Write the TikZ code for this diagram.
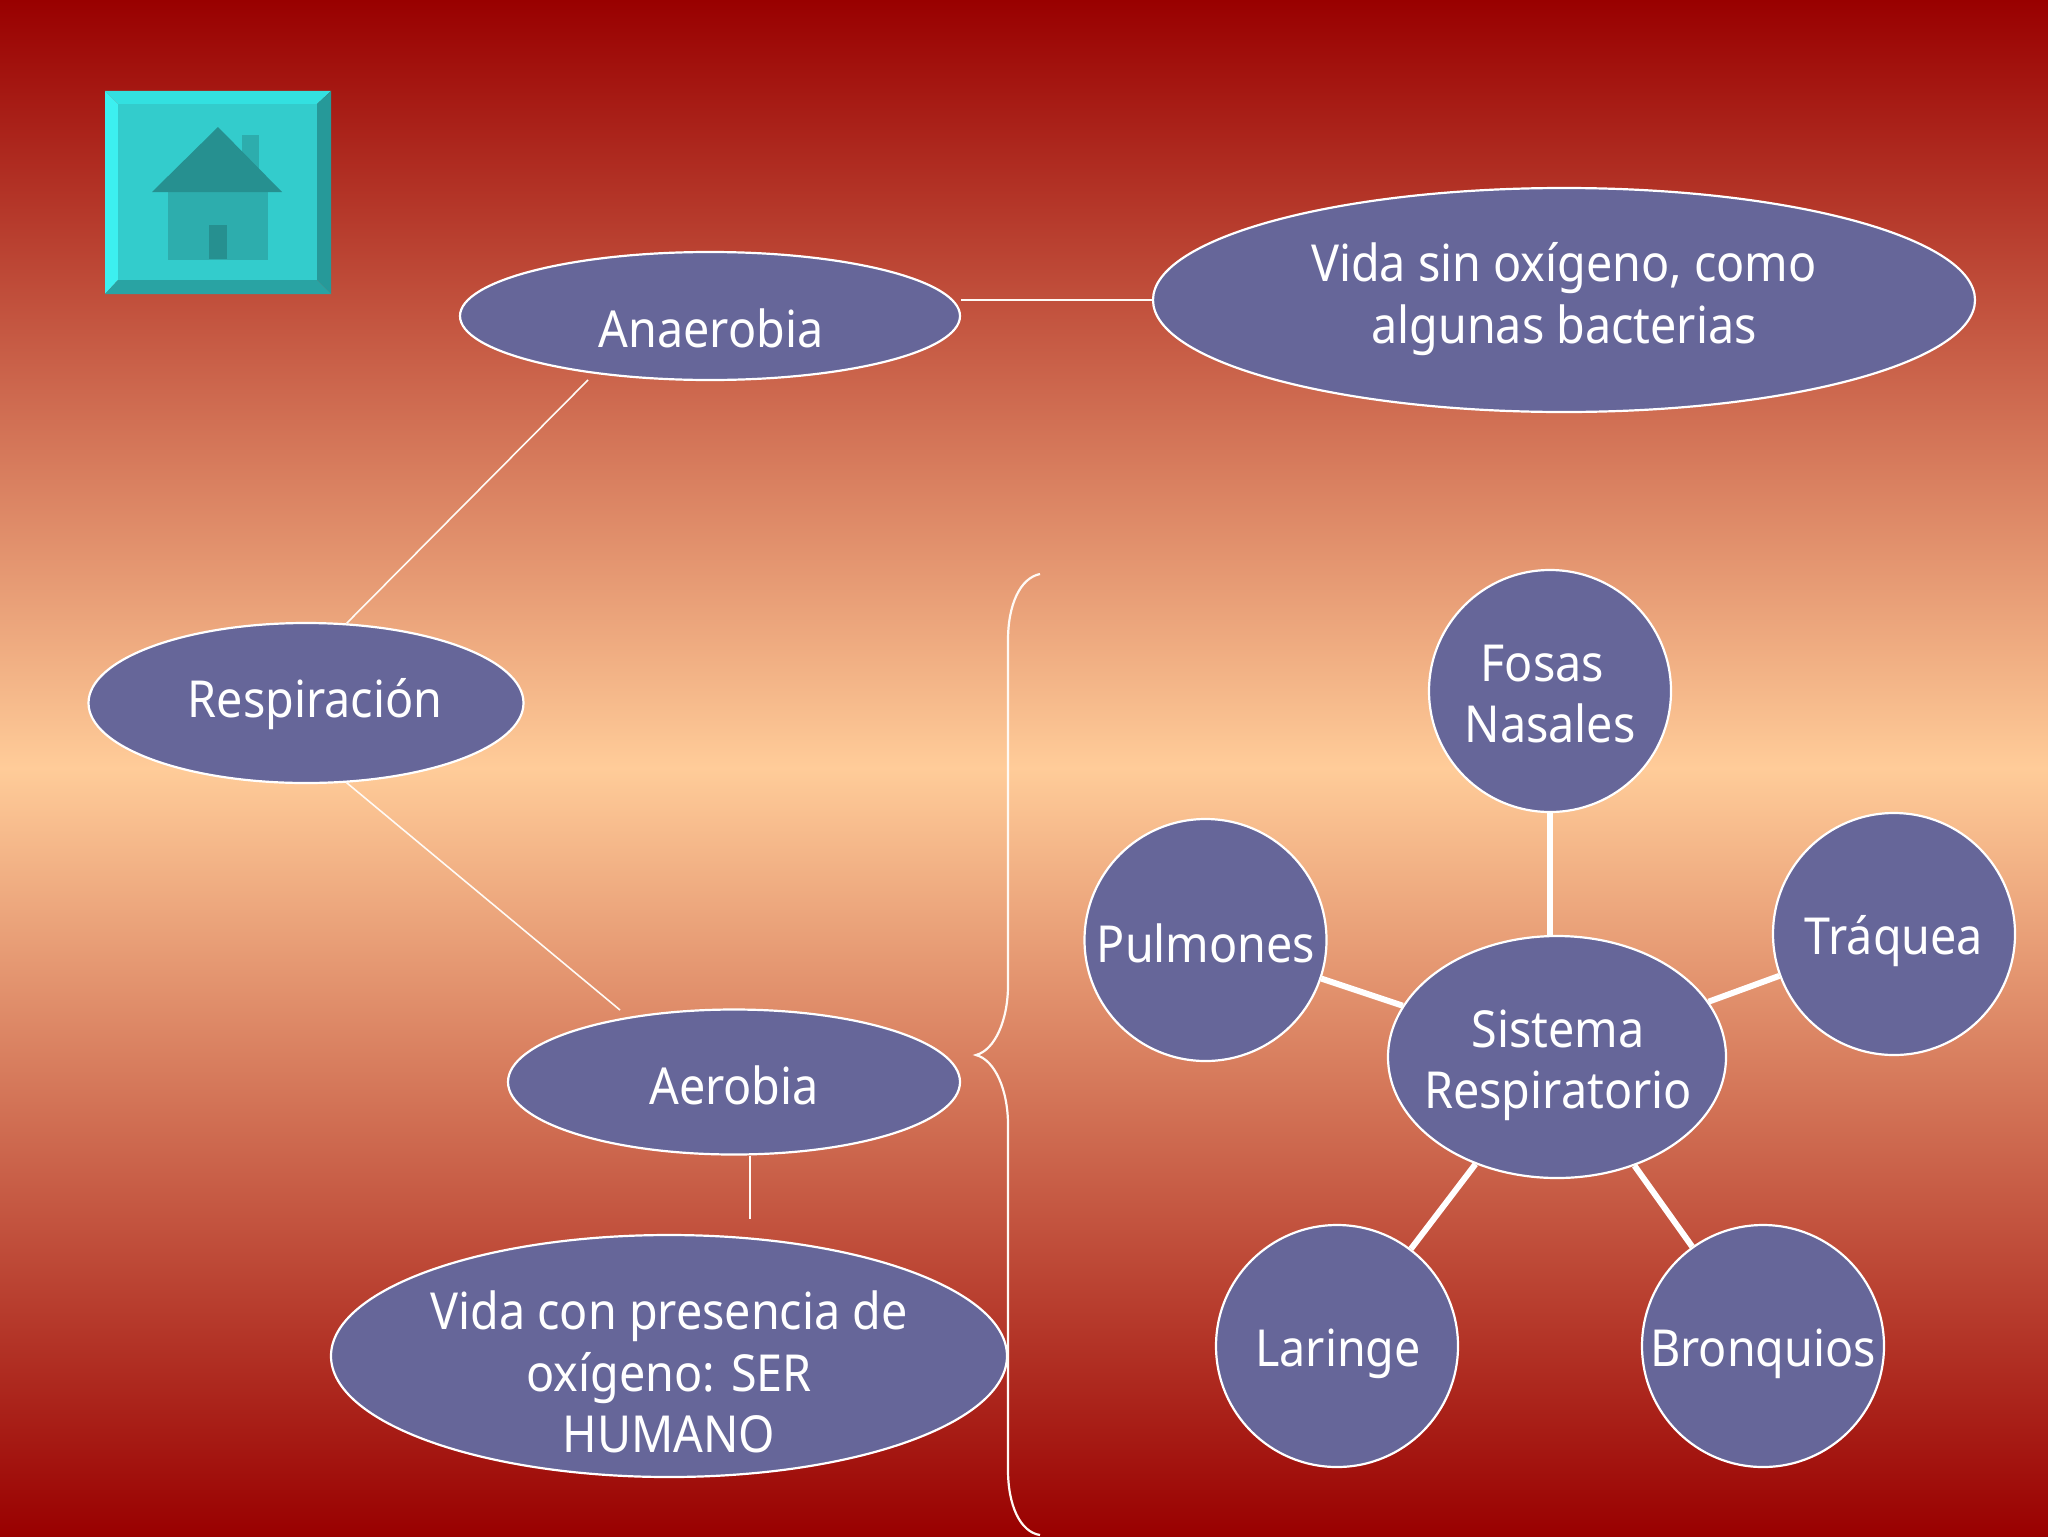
\documentclass[tikz,border=0pt]{standalone}
\usepackage{fontspec}
\usetikzlibrary{shapes.geometric,calc}
\setmainfont[FakeStretch=0.915]{Noto Sans}
\definecolor{deepred}{HTML}{990000}
\definecolor{peach}{HTML}{FFCC99}
\definecolor{nodefill}{HTML}{666699}
\definecolor{face}{HTML}{33CCCC}
\definecolor{bevtop}{HTML}{33E0E0}
\definecolor{bevleft}{HTML}{3CF0F0}
\definecolor{bevright}{HTML}{269999}
\definecolor{bevbot}{HTML}{29A3A3}
\definecolor{roof}{HTML}{269090}
\definecolor{body}{HTML}{2DADAD}
\tikzset{
  oval/.style={ellipse,draw=white,fill=nodefill,line width=1.1pt,inner sep=0pt},
  disc/.style={circle,draw=white,fill=nodefill,line width=1.1pt,inner sep=0pt,minimum size=121pt},
  txt/.style={text=white,align=center,inner sep=0pt,font=\fontsize{25.5}{30.6}\selectfont},
  thin link/.style={draw=white!90!peach,line width=0.8pt},
  thick link/.style={draw=white,line width=3pt},
}
\begin{document}
\begin{tikzpicture}[x=0.5pt,y=-0.5pt]
\useasboundingbox (0,0) rectangle (2048,1536);
\shade[top color=deepred,bottom color=deepred,middle color=peach] (0,0) rectangle (2048,1536);
% icon
\fill[bevtop] (105,91) -- (331,91) -- (317,104) -- (118,104) -- cycle;
\fill[bevleft] (105,91) -- (118,104) -- (118,280) -- (105,294) -- cycle;
\fill[bevright] (331,91) -- (331,294) -- (317,280) -- (317,104) -- cycle;
\fill[bevbot] (105,294) -- (118,280) -- (317,280) -- (331,294) -- cycle;
\fill[face] (118,104) rectangle (317,280);
\fill[body] (242,135) rectangle (259,175);
\fill[body] (168,192) rectangle (268,260);
\fill[roof] (218,127) -- (282,192) -- (152,192) -- cycle;
\fill[roof] (209,225) rectangle (227,259);
% shapes
\node[oval,minimum width=250pt,minimum height=64pt] (ana) at (710,316) {};
\node[oval,minimum width=411pt,minimum height=112pt] (vsin) at (1564,300) {};
\node[oval,minimum width=217.5pt,minimum height=80pt] (resp) at (306,703) {};
\node[oval,minimum width=226pt,minimum height=72.5pt] (aer) at (734,1082) {};
\node[oval,minimum width=338pt,minimum height=121pt] (vcon) at (669,1356) {};
\node[oval,minimum width=169pt,minimum height=121pt] (sis) at (1557,1057) {};
\node[disc] (fos) at (1550,691) {};
\node[disc] (tra) at (1894,934) {};
\node[disc] (bro) at (1763,1346) {};
\node[disc] (lar) at (1337,1346) {};
\node[disc] (pul) at (1205.5,940) {};
% connectors
\coordinate (vconend) at (750,1219);
\coordinate (anaend) at (588,380);
\coordinate (aerend) at (620,1010);
\draw[thin link] (vsin.west) -- (vsin.west -| ana.east);
\draw[thin link] (resp.63.4) -- (anaend);
\draw[thin link] (resp.297) -- (aerend);
\draw[thin link] (vconend |- aer.south) -- (vconend);
\draw[thick link] (fos) -- (fos |- sis.north);
\draw[thick link] (sis) -- (tra);
\draw[thick link] (sis) -- (pul);
\draw[thick link] (sis) -- (lar);
\draw[thick link] (sis) -- (bro);
% brace
\coordinate (bt) at (1040,574);
\coordinate (tip) at (976,1055);
\coordinate (bb) at (1040,1535);
\draw[thin link,line width=1.1pt]
  (bt) .. controls (1020,578) and (1008,605) .. (1008,640)
  -- (1008,985) .. controls (1008,1020) and (995,1050) .. (tip)
  .. controls (995,1060) and (1008,1090) .. (1008,1125)
  -- (1008,1470) .. controls (1008,1505) and (1020,1532) .. (bb);
% texts
\node[txt] (anat) at (711,328) {Anaerobia};
\node[txt] (vsint) at (1564,299) {Vida sin oxígeno, como\\algunas bacterias};
\node[txt] (respt) at (315,704) {Respiración};
\node[txt] (aert) at (734,1085) {Aerobia};
\node[txt] (vcont) at (669,1372) {Vida con presencia de\\oxígeno: SER\\HUMANO};
\node[txt] (sist) at (1558,1065) {Sistema\\Respiratorio};
\node[txt] (fost) at (1550,694) {Fosas\hspace*{0.3em}\\Nasales};
\node[txt] (trat) at (1894,941) {Tráquea};
\node[txt] (brot) at (1763,1354) {Bronquios};
\node[txt] (lart) at (1338,1354) {Laringe};
\node[txt] (pult) at (1206,943) {Pulmones};
\end{tikzpicture}
\end{document}
